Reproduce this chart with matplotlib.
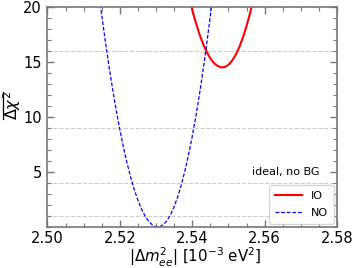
import matplotlib
matplotlib.use("Agg")
import matplotlib.pyplot as plt
from matplotlib.ticker import MultipleLocator, FixedLocator

# NO curve
no_x = [2.514, 2.515, 2.516, 2.517, 2.518, 2.519, 2.520, 2.521, 2.522, 2.523,
        2.524, 2.525, 2.526, 2.527, 2.528, 2.529, 2.530, 2.531, 2.532, 2.533,
        2.534, 2.535, 2.536, 2.537, 2.538, 2.539, 2.540, 2.541, 2.542, 2.543,
        2.544, 2.545, 2.546]
no_y = [21.81, 19.24, 16.84, 14.60, 12.52, 10.59, 8.83, 7.23, 5.79, 4.51,
        3.38, 2.42, 1.62, 0.98, 0.50, 0.18, 0.02, 0.02, 0.21, 0.57,
        1.12, 1.85, 2.76, 3.86, 5.14, 6.60, 8.24, 10.07, 12.07, 14.27,
        16.64, 19.20, 21.93]

# IO curve
io_x = [2.539, 2.540, 2.541, 2.542, 2.543, 2.544, 2.545, 2.546, 2.547, 2.548,
        2.549, 2.550, 2.551, 2.552, 2.553, 2.554, 2.555, 2.556, 2.557]
io_y = [21.08, 19.74, 18.56, 17.52, 16.64, 15.91, 15.33, 14.90, 14.63, 14.51,
        14.54, 14.74, 15.11, 15.65, 16.35, 17.22, 18.26, 19.47, 20.84]

grid_levels = [1, 4, 9, 16]
x_ticks = [2.50, 2.52, 2.54, 2.56, 2.58]
y_ticks = [5, 10, 15, 20]

fig = plt.figure(figsize=(3.57, 2.68), dpi=100)
ax = fig.add_axes([0.133, 0.153, 0.811, 0.821])

for g in grid_levels:
    ax.axhline(g, color='#cccccc', ls='--', lw=0.8, zorder=0)

ax.plot(io_x, io_y, color='red', lw=1.5, label='IO')
ax.plot(no_x, no_y, color='blue', lw=0.9, ls='--', dashes=(3, 1.5), label='NO')

ax.set_xlim(2.50, 2.58)
ax.set_ylim(0, 20)
ax.xaxis.set_major_locator(FixedLocator(x_ticks))
ax.xaxis.set_minor_locator(MultipleLocator(0.005))
ax.yaxis.set_major_locator(FixedLocator(y_ticks))
ax.yaxis.set_minor_locator(MultipleLocator(1))
ax.set_xticklabels(['%.2f' % v for v in x_ticks])

for s in ax.spines.values():
    s.set_color('#777777')
    s.set_linewidth(1.2)
ax.tick_params(which='both', direction='in', top=True, right=True,
               color='#777777', labelsize=10.5, pad=4)
ax.tick_params(axis='x', which='both', pad=3)
ax.tick_params(which='major', length=5, width=1)
ax.tick_params(which='minor', length=3, width=0.8)

ax.set_xlabel(r'$|\Delta m^2_{ee}|$ [$10^{-3}$ eV$^2$]', fontsize=10.8)
ax.xaxis.set_label_coords(0.51, -0.087)

# y label: text plus a manual overline above it (rotated)
fig.text(0.033, 0.606, r'$\Delta\chi^2$', rotation=90, fontsize=11.5,
         ha='center', va='center')
fig.add_artist(plt.Line2D([0.008, 0.008], [0.556, 0.657], color='black',
                          lw=0.9, transform=fig.transFigure))

leg = ax.legend(loc='lower right', fontsize=8, handlelength=2.4,
                labelspacing=0.6, borderpad=0.55, borderaxespad=0.3,
                frameon=True)
ax.text(0.94, 0.228, 'ideal, no BG', transform=ax.transAxes,
        ha='right', va='bottom', fontsize=8)

fig.savefig('out.png', dpi=100)
